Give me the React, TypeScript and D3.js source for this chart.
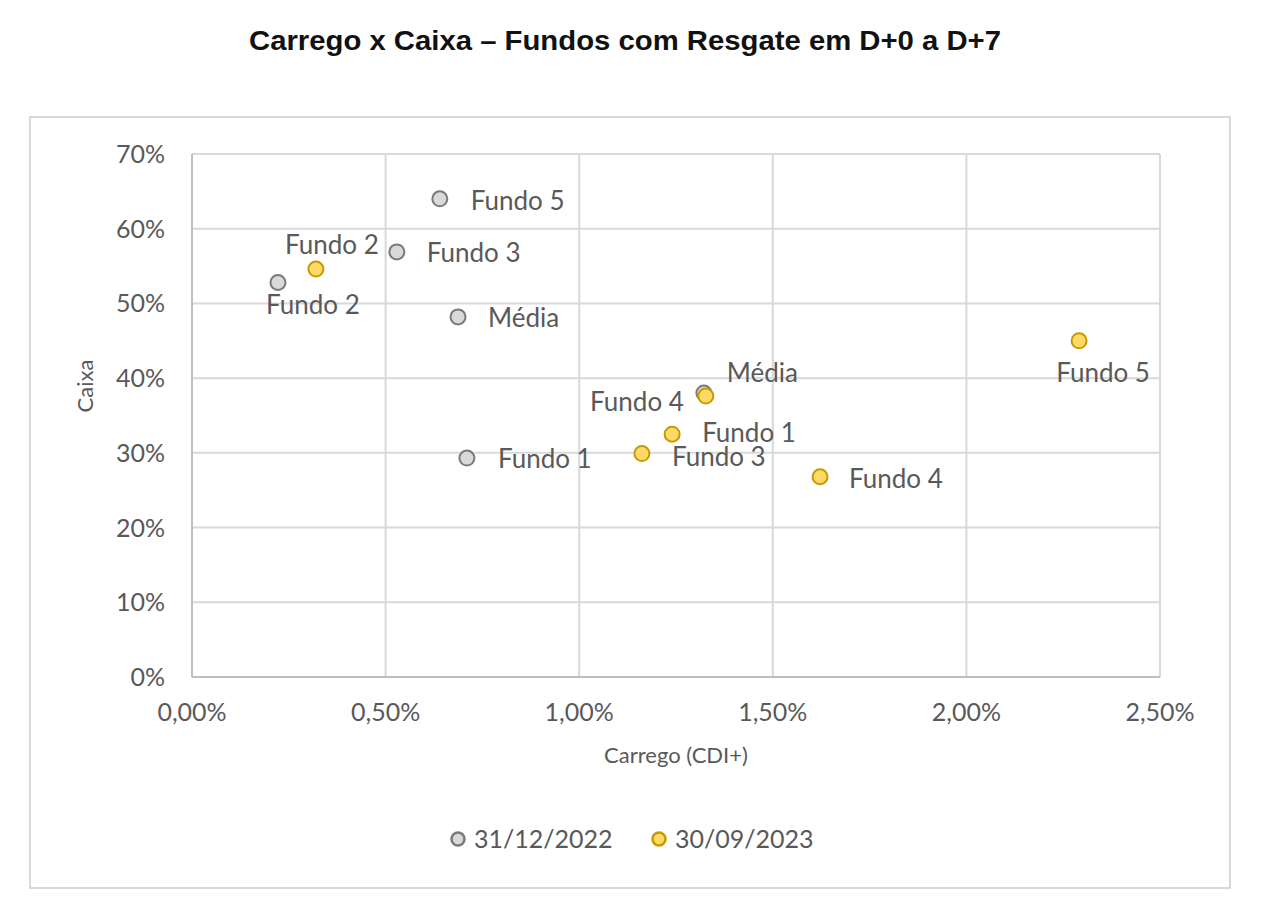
import * as d3 from 'd3';
import React from 'react';

// chart data
const seriesNames = ['31/12/2022', '30/09/2023'];
const fundNames = ['Fundo 1', 'Fundo 2', 'Fundo 3', 'Fundo 4', 'Fundo 5', 'Média'];
const carrego2022 = [0.71, 0.222, 0.529, 1.322, 0.64, 0.687];
const caixa2022 = [29.3, 52.8, 56.9, 38.0, 64.0, 48.2];
const carrego2023 = [1.24, 0.32, 1.162, 1.622, 2.291, 1.327];
const caixa2023 = [32.5, 54.6, 29.9, 26.8, 45.0, 37.6];
const xTicks = [0, 0.5, 1, 1.5, 2, 2.5];
const yTicks = [0, 10, 20, 30, 40, 50, 60, 70];

// label placement (dx, dy from the marker, text anchor) – same order as fundNames
const labelLayout = [
	[
		{ dx: 31, dy: 10, anchor: 'start' },
		{ dx: 35, dy: 31, anchor: 'middle' },
		{ dx: 30, dy: 10, anchor: 'start' },
		{ dx: -20, dy: 18, anchor: 'end' },
		{ dx: 31, dy: 11, anchor: 'start' },
		{ dx: 30, dy: 10, anchor: 'start' }
	],
	[
		{ dx: 30, dy: 8, anchor: 'start' },
		{ dx: 16, dy: -15, anchor: 'middle' },
		{ dx: 30, dy: 12, anchor: 'start' },
		{ dx: 29, dy: 11, anchor: 'start' },
		{ dx: 24, dy: 41, anchor: 'middle' },
		{ dx: 21, dy: -14, anchor: 'start' }
	]
];

const styles = [
	{ fill: '#d9d9d9', stroke: '#7a7a7a' },
	{ fill: '#ffd966', stroke: '#c59b00' }
];

const W = 1266;
const H = 908;
const plot = { left: 192, right: 1160, top: 154, bottom: 677 };
const font = 'Lato, "Open Sans", sans-serif';
const textColor = '#595959';

const fmtX = (v: number) => v.toFixed(2).replace('.', ',') + '%';

export default function App() {
	const x = d3.scaleLinear().domain([0, 2.5]).range([plot.left, plot.right]);
	const y = d3.scaleLinear().domain([0, 70]).range([plot.bottom, plot.top]);

	const series = [
		fundNames.map((n, i) => ({ name: n, cx: carrego2022[i], cy: caixa2022[i] })),
		fundNames.map((n, i) => ({ name: n, cx: carrego2023[i], cy: caixa2023[i] }))
	];

	return (
		<svg width={W} height={H} style={{ position: 'absolute', left: 0, top: 0, background: '#fff' }}>
			<text x={625} y={50} textAnchor="middle" fontFamily='"Liberation Sans", Arial, sans-serif'
				fontWeight="bold" fontSize={28} fill="#111" textLength={752} lengthAdjust="spacingAndGlyphs">
				Carrego x Caixa – Fundos com Resgate em D+0 a D+7
			</text>

			<rect x={30} y={117} width={1200} height={771} fill="#fff" stroke="#d9d9d9" strokeWidth={2} />

			{/* grid */}
			<g stroke="#d9d9d9" strokeWidth={2}>
				{yTicks.filter(t => t > 0).map(t => (
					<line key={'h' + t} x1={plot.left} x2={plot.right} y1={y(t)} y2={y(t)} />
				))}
				{xTicks.filter(t => t > 0).map(t => (
					<line key={'v' + t} x1={x(t)} x2={x(t)} y1={plot.top} y2={plot.bottom} />
				))}
			</g>
			<g stroke="#bfbfbf" strokeWidth={2}>
				<line x1={plot.left} x2={plot.right} y1={plot.bottom} y2={plot.bottom} />
				<line x1={plot.left} x2={plot.left} y1={plot.top} y2={plot.bottom} />
			</g>

			{/* tick labels */}
			<g fontFamily={font} fontSize={25} fill={textColor}>
				{yTicks.map(t => (
					<text key={'yl' + t} x={165} y={y(t) + 9} textAnchor="end">{t}%</text>
				))}
				{xTicks.map(t => (
					<text key={'xl' + t} x={x(t)} y={721} textAnchor="middle">{fmtX(t)}</text>
				))}
			</g>

			<text x={676} y={763} textAnchor="middle" fontFamily={font} fontSize={22} fill={textColor}>Carrego (CDI+)</text>
			<text transform="translate(93,386) rotate(-90)" textAnchor="middle" fontFamily={font} fontSize={22} fill={textColor}>Caixa</text>

			{/* markers */}
			{series.map((s, si) => (
				<g key={'s' + si}>
					{s.map(d => (
						<circle key={d.name} cx={x(d.cx)} cy={y(d.cy)} r={7.5}
							fill={styles[si].fill} stroke={styles[si].stroke} strokeWidth={2} />
					))}
				</g>
			))}

			{/* data labels */}
			<g fontFamily={font} fontSize={26} fill={textColor}>
				{series.map((s, si) => s.map((d, i) => (
					<text key={si + d.name} x={x(d.cx) + labelLayout[si][i].dx} y={y(d.cy) + labelLayout[si][i].dy}
						textAnchor={labelLayout[si][i].anchor}>{d.name}</text>
				)))}
			</g>

			{/* legend */}
			<g fontFamily={font} fontSize={25} fill={textColor}>
				{seriesNames.map((n, i) => (
					<g key={n} transform={`translate(${458 + i * 201},839)`}>
						<circle r={6.5} fill={styles[i].fill} stroke={styles[i].stroke} strokeWidth={2.5} />
						<text x={16} y={9}>{n}</text>
					</g>
				))}
			</g>
		</svg>
	);
}
